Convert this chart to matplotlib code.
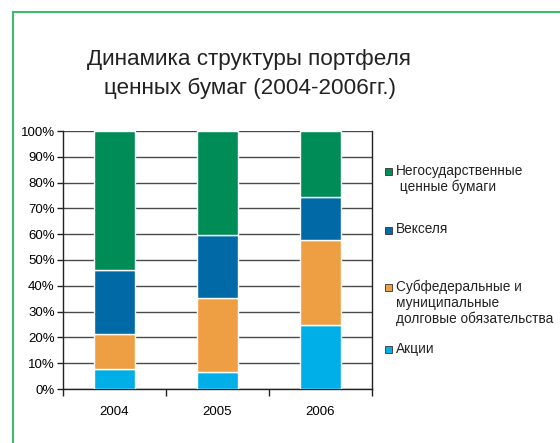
import numpy as np
import matplotlib
matplotlib.use("Agg")
import matplotlib.pyplot as plt
from matplotlib.patches import Rectangle
from matplotlib.lines import Line2D

plt.rcParams['font.family'] = ['Liberation Sans', 'DejaVu Sans']

# data (shares, %)
years = ['2004', '2005', '2006']
series_names = ['Акции',
                'Субфедеральные и\nмуниципальные\nдолговые обязательства',
                'Векселя',
                'Негосударственные\n ценные бумаги']
akcii = [7.6, 6.6, 25.0]
subfed = [13.7, 28.7, 32.8]
veksel = [24.9, 24.5, 16.7]
negos = [53.8, 40.2, 25.5]
colors = ['#00aee8', '#ee9e43', '#0069a6', '#008c57']

fig = plt.figure(figsize=(5.6, 4.43), dpi=100)
ax = fig.add_axes([63 / 560, 1 - 389 / 443, 309 / 560, 258 / 443])

x = np.arange(len(years))
bottom = np.zeros(len(years))
for vals, col in zip([akcii, subfed, veksel, negos], colors):
    ax.bar(x, vals, width=0.39, bottom=bottom, color=col, edgecolor='white',
           linewidth=1, zorder=3)
    bottom += np.array(vals)

ax.set_xlim(-0.5, 2.5)
ax.set_ylim(0, 100)
ax.set_yticks(np.arange(0, 101, 10))
ax.set_yticklabels([f'{v}%' for v in range(0, 101, 10)], fontsize=9.5)
ax.yaxis.grid(True, color='#4a4a4a', linewidth=1, zorder=0)
ax.set_axisbelow(True)
ax.set_xticks([-0.5, 0.5, 1.5, 2.5])
ax.set_xticklabels([])
ax.set_xticks(x, minor=True)
ax.set_xticklabels(years, minor=True, fontsize=9.5)
ax.tick_params(axis='x', which='minor', length=0, pad=12)
ax.tick_params(axis='x', which='major', length=5, width=1, color='#222222')
ax.tick_params(axis='y', length=4, width=1, color='#222222', pad=2)
for s in ['left', 'bottom', 'right']:
    ax.spines[s].set_color('#222222')
    ax.spines[s].set_linewidth(1)
ax.spines['top'].set_visible(False)

# title
fig.text(249 / 560, 1 - 60 / 443, 'Динамика структуры портфеля', ha='center', va='center',
         fontsize=16.2, color='#222222')
fig.text(250 / 560, 1 - 88 / 443, 'ценных бумаг (2004-2006гг.)', ha='center', va='center',
         fontsize=16.2, color='#222222')

# legend, drawn by hand (y = centre of first line, px from top)
leg_y = [349, 287, 230, 171]
for name, col, yy in zip(series_names, colors, leg_y):
    fig.patches.append(Rectangle((385 / 560, 1 - (yy + 3.5) / 443), 7 / 560, 7 / 443,
                                 transform=fig.transFigure, facecolor=col,
                                 edgecolor='#333333', linewidth=0.6))
    fig.text(396 / 560, 1 - (yy - 7.5) / 443, name, ha='left', va='top',
             fontsize=9.8, linespacing=1.15, color='#222222')

# green frame
fig.add_artist(Line2D([12.5 / 560, 12.5 / 560], [0, 1 - 11.5 / 443], color='#3dbb6e',
                      linewidth=1.5, transform=fig.transFigure))
fig.add_artist(Line2D([12.5 / 560, 1], [1 - 11.5 / 443, 1 - 11.5 / 443], color='#3dbb6e',
                      linewidth=1.5, transform=fig.transFigure))

fig.savefig('out.png', dpi=100)
